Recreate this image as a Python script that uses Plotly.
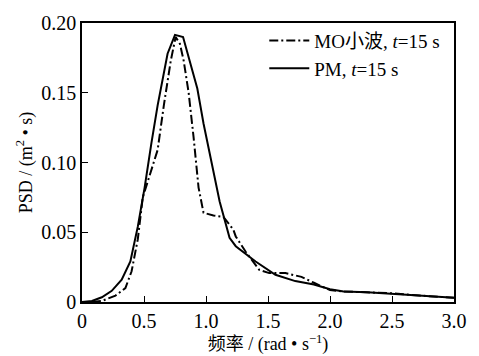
import plotly.graph_objects as go

# PM spectrum (solid)
pm_x = [0.0, 0.08, 0.16, 0.24, 0.32, 0.39, 0.45, 0.505, 0.56, 0.61, 0.69, 0.75, 0.815, 0.87, 0.93, 0.98, 1.045, 1.11, 1.19, 1.24,
        1.40, 1.56, 1.72, 1.87, 2.0, 2.11, 2.3, 2.51, 2.72, 2.87, 3.0]
pm_y = [0.0, 0.0007, 0.0034, 0.008, 0.016, 0.029, 0.054, 0.082, 0.114, 0.141, 0.178, 0.1915, 0.19, 0.172, 0.153, 0.128, 0.100, 0.072, 0.046, 0.040,
        0.029, 0.0195, 0.015, 0.0126, 0.0092, 0.0076, 0.0069, 0.0057, 0.0046, 0.0034, 0.003]

# MO wavelet spectrum (dash-dot)
mo_x = [0.08, 0.16, 0.27, 0.35, 0.40, 0.45, 0.49, 0.53, 0.61, 0.66, 0.716, 0.755, 0.79, 0.82, 0.86, 0.90, 0.94, 0.98, 1.06, 1.14, 1.22,
        1.24, 1.32, 1.43, 1.51, 1.64, 1.77, 1.87, 2.0, 2.11, 2.3, 2.51, 2.72, 3.0]
mo_y = [0.0, 0.0007, 0.0046, 0.010, 0.022, 0.045, 0.075, 0.086, 0.109, 0.141, 0.173, 0.19, 0.185, 0.173, 0.15, 0.118, 0.082, 0.064, 0.062, 0.061, 0.052,
        0.047, 0.036, 0.023, 0.0207, 0.0207, 0.018, 0.0138, 0.0085, 0.0076, 0.007, 0.0062, 0.0046, 0.003]

x_ticks = [0, 0.5, 1.0, 1.5, 2.0, 2.5, 3.0]
x_labels = ["0", "0.5", "1.0", "1.5", "2.0", "2.5", "3.0"]
y_ticks = [0, 0.05, 0.10, 0.15, 0.20]
y_labels = ["0", "0.05", "0.10", "0.15", "0.20"]

FONT = "'Liberation Serif', 'Noto Sans CJK SC', serif"

fig = go.Figure()
fig.add_trace(go.Scatter(x=mo_x, y=mo_y, mode="lines", name="MO小波, <i>t</i>=15 s",
                         line=dict(color="black", width=2, dash="9px,3px,2px,3px")))
fig.add_trace(go.Scatter(x=pm_x, y=pm_y, mode="lines", name="PM, <i>t</i>=15 s",
                         line=dict(color="black", width=2)))

axis_common = dict(showline=True, linecolor="black", linewidth=1.5, mirror=True,
                   ticks="inside", ticklen=6, tickwidth=1.2, tickcolor="black",
                   showgrid=False, zeroline=False,
                   tickfont=dict(family=FONT, size=20, color="black"))

fig.update_layout(
    width=479, height=356,
    margin=dict(l=82, r=18, t=15, b=51),
    paper_bgcolor="white", plot_bgcolor="white",
    font=dict(family=FONT, size=18, color="black"),
    showlegend=True,
    legend=dict(x=0.49, y=1.005, xanchor="left", yanchor="top",
                bgcolor="rgba(0,0,0,0)", borderwidth=0,
                font=dict(family=FONT, size=19, color="black"),
                tracegroupgap=0, itemwidth=40),
    xaxis=dict(range=[0, 3.0], tickvals=x_ticks, ticktext=x_labels,
               title=dict(text="频率 / (rad • s<sup>−1</sup>)", standoff=0,
                          font=dict(family=FONT, size=18, color="black")),
               **axis_common),
    yaxis=dict(range=[0, 0.20], tickvals=y_ticks, ticktext=y_labels,
               title=dict(text="PSD / (m<sup>2</sup> • s)", standoff=4,
                          font=dict(family=FONT, size=18, color="black")),
               **axis_common),
)

fig.write_html("out.html")
